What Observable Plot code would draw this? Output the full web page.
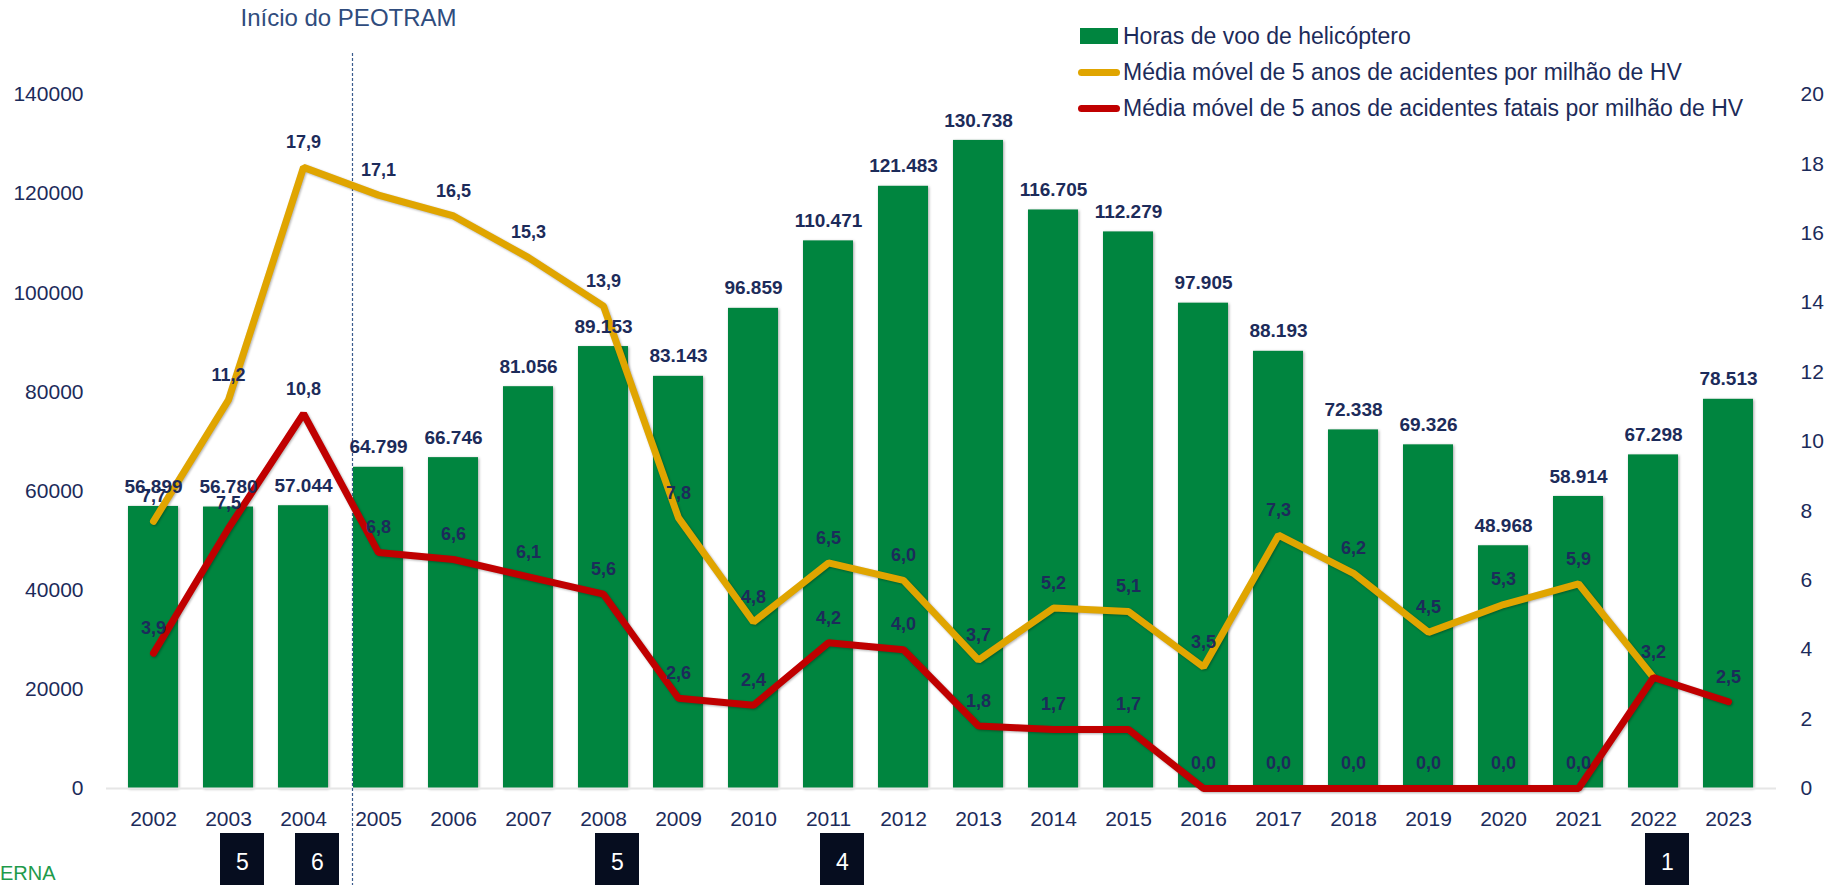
<!DOCTYPE html>
<html>
<head>
<meta charset="utf-8">
<script src="https://cdn.jsdelivr.net/npm/d3@7"></script>
<script src="https://cdn.jsdelivr.net/npm/@observablehq/plot@0.6"></script>
<style>
  body { margin: 0; background: #fff; font-family: "Liberation Sans", Arial, sans-serif; }
  #wrap { position: relative; width: 1838px; height: 885px; overflow: hidden; background: #fff; }
  #wrap svg { display: block; }
  #legend { position: absolute; left: 1078px; top: 18px; color: #1c2b5a; font-size: 23px; }
  .row { display: flex; align-items: center; height: 36px; white-space: nowrap; }
  .sw { width: 42px; margin-right: 3px; display: flex; align-items: center; justify-content: flex-start; }
  .sw .box { width: 38px; height: 16px; margin-left: 2px; background: #00853f; }
  .sw .ln { width: 42px; height: 7px; border-radius: 4px; }
  #brand { position: absolute; left: 0; top: 862px; font-size: 20px; color: #1e9a4b; }
</style>
</head>
<body>
<div id="wrap">
  <div id="chart"></div>
  <div id="boxes"></div>
  <div id="legend"></div>
  <div id="brand">ERNA</div>
</div>
<script>
// ---------------- data ----------------
const years = ["2002","2003","2004","2005","2006","2007","2008","2009","2010","2011","2012","2013","2014","2015","2016","2017","2018","2019","2020","2021","2022","2023"];
const flightHours = [56899,56780,57044,64799,66746,81056,89153,83143,96859,110471,121483,130738,116705,112279,97905,88193,72338,69326,48968,58914,67298,78513];
const accidentRate = [7.7,11.2,17.9,17.1,16.5,15.3,13.9,7.8,4.8,6.5,6.0,3.7,5.2,5.1,3.5,7.3,6.2,4.5,5.3,5.9,3.2,null];
const fatalRate = [3.9,7.5,10.8,6.8,6.6,6.1,5.6,2.6,2.4,4.2,4.0,1.8,1.7,1.7,0.0,0.0,0.0,0.0,0.0,0.0,3.2,2.5];
const boxYears = ["2003","2004","2008","2011","2022"];
const boxCounts = [5,6,5,4,1];
const leftTicks = [0,20000,40000,60000,80000,100000,120000,140000];
const rightTicks = [0,2,4,6,8,10,12,14,16,18,20];
const peotramStart = "2005";
const peotramLabel = "Início do PEOTRAM";
const seriesNames = ["Horas de voo de helicóptero","Média móvel de 5 anos de acidentes por milhão de HV","Média móvel de 5 anos de acidentes fatais por milhão de HV"];

// ---------------- styles ----------------
const GREEN = "#00853f", ORANGE = "#e0a500", RED = "#c00000", NAVY = "#1c2b5a", TITLE = "#2f4c7d", BOXC = "#060d1f";
const RATIO = 140000 / 20; // right axis (0–20) onto left axis (0–140000)
const FONT = "Liberation Sans, Arial, sans-serif";

const bars = years.map((y, i) => ({year: y, hours: flightHours[i]}));
const acc = years.map((y, i) => ({year: y, v: accidentRate[i], red: fatalRate[i]}));
const fat = years.map((y, i) => ({year: y, v: fatalRate[i]}));
const boxes = boxYears.map((y, i) => ({year: y, n: boxCounts[i]}));

const thousands = d3.formatLocale({decimal: ",", thousands: ".", grouping: [3], currency: ["", ""]}).format(",d");
const dec1 = v => v.toFixed(1).replace(".", ",");

const W = 1838, ML = 106, MR = 62;

const main = Plot.plot({
  width: W, height: 833,
  marginLeft: ML, marginRight: MR, marginTop: 94, marginBottom: 45,
  style: {fontFamily: FONT, fontSize: "21px", color: NAVY, background: "white", overflow: "visible"},
  x: {type: "band", domain: years, paddingInner: 0.33, paddingOuter: 0.165, align: 0.5},
  y: {domain: [0, 140000]},
  marks: [
    Plot.barY(bars, {x: "year", y: "hours", fill: GREEN, imageFilter: "drop-shadow(1.5px 1px 1.5px rgba(0,0,0,0.35))"}),
    Plot.ruleY([0], {stroke: "#e6e6e6", strokeWidth: 2}),
    Plot.ruleX([peotramStart], {dx: -26, stroke: "#3a5a8c", strokeWidth: 1.2, strokeDasharray: "3,2", insetTop: -41, insetBottom: -45}),
    Plot.text([peotramStart], {x: d => d, text: () => peotramLabel, frameAnchor: "top", lineAnchor: "middle", dy: -76, dx: -30, fontSize: 24, fill: TITLE}),
    Plot.line(acc, {x: "year", y: d => d.v == null ? NaN : d.v * RATIO, stroke: ORANGE, strokeWidth: 7, strokeLinejoin: "miter", imageFilter: "drop-shadow(1px 1px 1px rgba(0,0,0,0.3))"}),
    Plot.line(fat, {x: "year", y: d => d.v * RATIO, stroke: RED, strokeWidth: 7, strokeLinejoin: "miter", imageFilter: "drop-shadow(1px 1px 1px rgba(0,0,0,0.3))"}),
    Plot.text(bars, {x: "year", y: "hours", text: d => thousands(d.hours), dy: -20, fontSize: 19, fontWeight: "bold", fill: NAVY}),
    Plot.text(acc.filter(d => d.v != null && d.v !== d.red), {x: "year", y: d => d.v * RATIO, text: d => dec1(d.v), dy: -25, fontSize: 18, fontWeight: "bold", fill: NAVY}),
    Plot.text(fat, {x: "year", y: d => d.v * RATIO, text: d => dec1(d.v), dy: -25, fontSize: 18, fontWeight: "bold", fill: NAVY}),
    Plot.axisY(leftTicks, {anchor: "left", tickSize: 0, tickPadding: 23, fontSize: 21, tickFormat: d => String(d), label: null}),
    Plot.axisY(rightTicks.map(v => v * RATIO), {anchor: "right", tickSize: 0, tickPadding: 24, fontSize: 21, tickFormat: d => String(Math.round(d / RATIO)), label: null}),
    Plot.axisX({tickSize: 0, tickPadding: 23, fontSize: 21, label: null})
  ]
});
document.getElementById("chart").appendChild(main);

const strip = Plot.plot({
  width: W, height: 52,
  marginLeft: ML, marginRight: MR, marginTop: 0, marginBottom: 0,
  style: {fontFamily: FONT, fontSize: "22px", background: "white", overflow: "visible"},
  x: {type: "band", domain: years, paddingInner: 0.41, paddingOuter: 0.205, align: 0.5, axis: null},
  marks: [
    Plot.ruleX([peotramStart], {dx: -26, stroke: "#3a5a8c", strokeWidth: 1.2, strokeDasharray: "3,2"}),
    Plot.cell(boxes, {x: "year", fill: BOXC, dx: 14}),
    Plot.text(boxes, {x: "year", text: d => String(d.n), dx: 14, dy: 3, fill: "white", fontSize: 23})
  ]
});
document.getElementById("boxes").appendChild(strip);

// legend
const legend = document.getElementById("legend");
const swatches = [
  '<div class="box"></div>',
  `<div class="ln" style="background:${ORANGE}"></div>`,
  `<div class="ln" style="background:${RED}"></div>`
];
seriesNames.forEach((name, i) => {
  const row = document.createElement("div");
  row.className = "row";
  row.innerHTML = `<div class="sw">${swatches[i]}</div><span>${name}</span>`;
  legend.appendChild(row);
});
</script>
</body>
</html>
